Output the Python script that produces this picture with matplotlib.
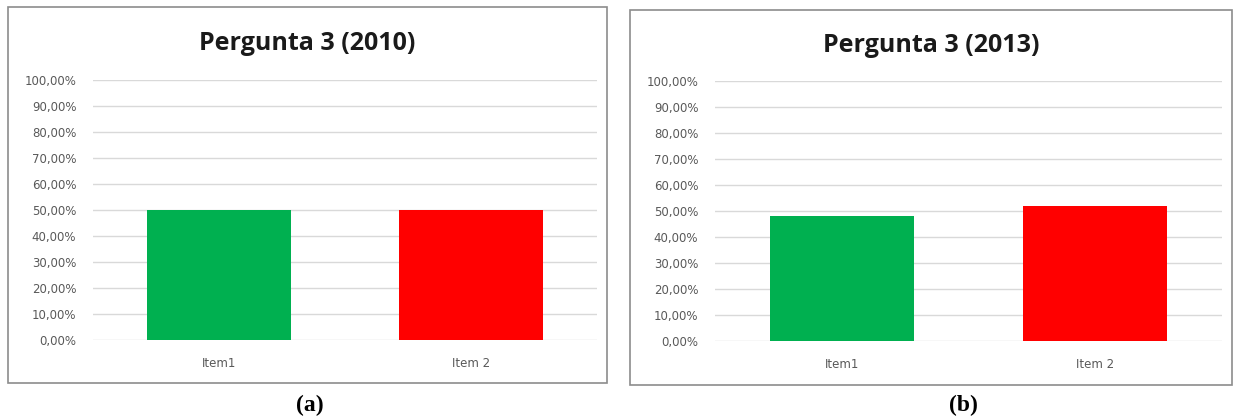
import matplotlib
matplotlib.use("Agg")
import matplotlib.pyplot as plt
from matplotlib.patches import Rectangle
from matplotlib.ticker import FuncFormatter

categories = ["Item1", "Item 2"]
values_2010 = [50.0, 50.0]
values_2013 = [48.0, 52.0]
titles = ["Pergunta 3 (2010)", "Pergunta 3 (2013)"]
captions = ["(a)", "(b)"]
bar_colors = ["#00b050", "#ff0000"]

W, H = 1235, 418
fig = plt.figure(figsize=(W / 100, H / 100), dpi=100)
fig.patch.set_facecolor("white")


def px(x0, y0, x1, y1):
    # pixel box (top-left origin) -> figure fraction rect
    return [x0 / W, 1 - y1 / H, (x1 - x0) / W, (y1 - y0) / H]


def pct(v, pos):
    return f"{v:.2f}%".replace(".", ",")


panels = [
    dict(frame=(8, 7, 607, 383), axes=(93, 80, 597, 340), title_y=43, cap_x=310),
    dict(frame=(630, 10, 1232, 385), axes=(715, 81, 1222, 341), title_y=45, cap_x=963),
]

for p, vals, title, cap in zip(panels, [values_2010, values_2013], titles, captions):
    fx0, fy0, fx1, fy1 = p["frame"]
    fig.patches.append(Rectangle((fx0 / W, 1 - fy1 / H), (fx1 - fx0) / W, (fy1 - fy0) / H,
                                 transform=fig.transFigure, fill=False,
                                 edgecolor="#8c8c8c", linewidth=1.2))

    ax = fig.add_axes(px(*p["axes"]))
    xs = range(len(categories))
    ax.bar(xs, vals, width=0.57, color=bar_colors, zorder=3)
    ax.set_xlim(-0.5, len(categories) - 0.5)
    ax.set_ylim(0, 100)
    ax.set_yticks(range(0, 101, 10))
    ax.yaxis.set_major_formatter(FuncFormatter(pct))
    ax.set_xticks(list(xs))
    ax.set_xticklabels(categories)
    ax.grid(axis="y", color="#d9d9d9", linewidth=1.0, zorder=0)
    for s in ax.spines.values():
        s.set_visible(False)
    ax.tick_params(length=0, labelsize=8.5, labelcolor="#595959")
    ax.tick_params(axis="y", pad=12)
    ax.tick_params(axis="x", pad=12)
    for lbl in ax.get_yticklabels() + ax.get_xticklabels():
        lbl.set_family(["Liberation Sans Narrow", "DejaVu Sans"])

    fig.text((fx0 + fx1) / 2 / W, 1 - p["title_y"] / H, title, ha="center", va="center",
             fontsize=18, fontweight="bold", color="#1a1a1a", family="Open Sans")
    fig.text(p["cap_x"] / W, 1 - 405 / H, cap, ha="center", va="center",
             fontsize=17, fontweight="bold", family="Liberation Serif")

fig.savefig("out.png", dpi=100)
